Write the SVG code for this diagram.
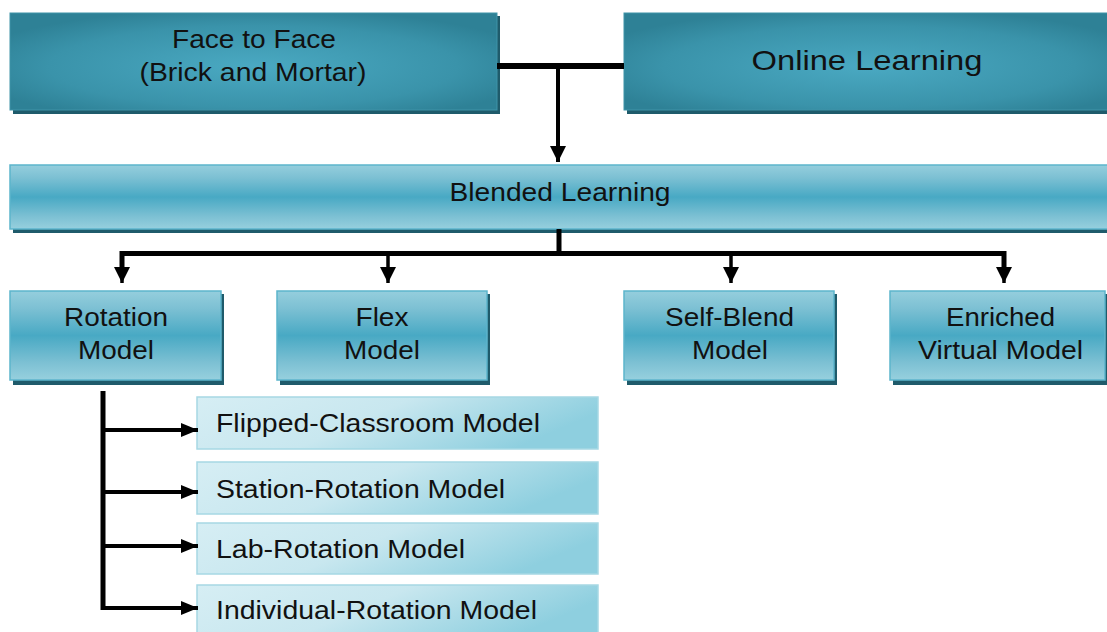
<svg xmlns="http://www.w3.org/2000/svg" width="1107" height="632" viewBox="0 0 1107 632">
<defs>
<radialGradient id="gTop" cx="0.5" cy="0.55" r="0.6">
<stop offset="0" stop-color="#4aa9c2"/>
<stop offset="0.7" stop-color="#3a93aa"/>
<stop offset="1" stop-color="#2e8196"/>
</radialGradient>
<linearGradient id="gMid" x1="0" y1="0" x2="0" y2="1">
<stop offset="0" stop-color="#95cedd"/>
<stop offset="0.2" stop-color="#7cc0d3"/>
<stop offset="0.5" stop-color="#48a9c4"/>
<stop offset="0.8" stop-color="#7cc0d3"/>
<stop offset="1" stop-color="#97d0de"/>
</linearGradient>
<linearGradient id="gSub" x1="0" y1="0" x2="1" y2="0.3">
<stop offset="0" stop-color="#d6eef4"/>
<stop offset="0.5" stop-color="#c8e7ef"/>
<stop offset="1" stop-color="#8ecfdf"/>
</linearGradient>
<marker id="ah" viewBox="0 0 16 16" refX="16" refY="8" markerWidth="16" markerHeight="16" markerUnits="userSpaceOnUse" orient="auto">
<path d="M0,0 L16,8 L0,16 Z" fill="#000"/>
</marker>
<marker id="ah2" viewBox="0 0 17 14" refX="17" refY="7" markerWidth="17" markerHeight="14" markerUnits="userSpaceOnUse" orient="auto">
<path d="M0,0 L17,7 L0,14 Z" fill="#000"/>
</marker>
</defs>
<style>
.sh{fill:#1f5b6b}
.top{fill:url(#gTop);stroke:#3f93a8;stroke-width:1}
.mid{fill:url(#gMid);stroke:#5cb5cc;stroke-width:1.5}
.sub{fill:url(#gSub);stroke:#a6d8e4;stroke-width:1.5}
text{font-family:"Liberation Sans",Arial,sans-serif;fill:#111;text-anchor:middle}
.t24{font-size:26px}
.s{text-anchor:start;font-size:26px}
.ln{stroke:#000;fill:none}
</style>
<rect width="1107" height="632" fill="#fff"/>

<g id="face">
<rect class="sh" x="13" y="16" width="487" height="98"/>
<rect class="top" x="10" y="13" width="487" height="97"/>
<text class="t24" x="254" y="48" textLength="164" lengthAdjust="spacingAndGlyphs">Face to Face</text>
<text class="t24" x="253" y="81" textLength="227" lengthAdjust="spacingAndGlyphs">(Brick and Mortar)</text>
</g>
<g id="online">
<rect class="sh" x="627" y="16" width="490" height="98"/>
<rect class="top" x="624" y="13" width="490" height="97"/>
<text x="867" y="70" style="font-size:28px" textLength="231" lengthAdjust="spacingAndGlyphs">Online Learning</text>
</g>
<g id="blended">
<rect class="sh" x="13" y="168" width="1100" height="65"/>
<rect class="mid" x="10" y="165" width="1100" height="64"/>
<text class="t24" x="560" y="201" textLength="221" lengthAdjust="spacingAndGlyphs">Blended Learning</text>
</g>
<g id="rotation">
<rect class="sh" x="13" y="294" width="211" height="91"/>
<rect class="mid" x="10" y="291" width="211" height="89"/>
<text class="t24" x="116" y="326" textLength="104" lengthAdjust="spacingAndGlyphs">Rotation</text>
<text class="t24" x="116" y="359" textLength="76" lengthAdjust="spacingAndGlyphs">Model</text>
</g>
<g id="flex">
<rect class="sh" x="280" y="294" width="210" height="91"/>
<rect class="mid" x="277" y="291" width="210" height="89"/>
<text class="t24" x="382" y="326" textLength="53" lengthAdjust="spacingAndGlyphs">Flex</text>
<text class="t24" x="382" y="359" textLength="76" lengthAdjust="spacingAndGlyphs">Model</text>
</g>
<g id="selfblend">
<rect class="sh" x="627" y="294" width="210" height="91"/>
<rect class="mid" x="624" y="291" width="210" height="89"/>
<text class="t24" x="729.5" y="326" textLength="129" lengthAdjust="spacingAndGlyphs">Self-Blend</text>
<text class="t24" x="730" y="359" textLength="76" lengthAdjust="spacingAndGlyphs">Model</text>
</g>
<g id="enriched">
<rect class="sh" x="893" y="294" width="215" height="91"/>
<rect class="mid" x="890" y="291" width="215" height="89"/>
<text class="t24" x="1000.5" y="326" textLength="109" lengthAdjust="spacingAndGlyphs">Enriched</text>
<text class="t24" x="1000.5" y="359" textLength="165" lengthAdjust="spacingAndGlyphs">Virtual Model</text>
</g>
<g id="flipped">
<rect class="sub" x="197" y="397" width="401" height="52"/>
<text class="s" x="216" y="432" textLength="324" lengthAdjust="spacingAndGlyphs">Flipped-Classroom Model</text>
</g>
<g id="station">
<rect class="sub" x="197" y="462" width="401" height="52"/>
<text class="s" x="216" y="498" textLength="289" lengthAdjust="spacingAndGlyphs">Station-Rotation Model</text>
</g>
<g id="lab">
<rect class="sub" x="197" y="523" width="401" height="51"/>
<text class="s" x="216" y="558" textLength="249" lengthAdjust="spacingAndGlyphs">Lab-Rotation Model</text>
</g>
<g id="individual">
<rect class="sub" x="197" y="585" width="401" height="52"/>
<text class="s" x="216" y="619" textLength="321" lengthAdjust="spacingAndGlyphs">Individual-Rotation Model</text>
</g>

<g id="connectors">
<line class="ln" x1="497" y1="66" x2="624" y2="66" stroke-width="6"/>
<line class="ln" x1="558" y1="66" x2="558" y2="162" stroke-width="4" marker-end="url(#ah)"/>
<line class="ln" x1="559" y1="229" x2="559" y2="255" stroke-width="5"/>
<path class="ln" d="M122,268 V253.5 H1004 V268" stroke-width="5" stroke-linejoin="miter"/>
<line class="ln" x1="122" y1="262" x2="122" y2="283" stroke-width="3.5" marker-end="url(#ah)"/>
<line class="ln" x1="388" y1="253" x2="388" y2="283" stroke-width="3.5" marker-end="url(#ah)"/>
<line class="ln" x1="731" y1="253" x2="731" y2="283" stroke-width="3.5" marker-end="url(#ah)"/>
<line class="ln" x1="1004" y1="262" x2="1004" y2="283" stroke-width="3.5" marker-end="url(#ah)"/>
<line class="ln" x1="103" y1="391" x2="103" y2="610" stroke-width="5"/>
<line class="ln" x1="103" y1="430" x2="198" y2="430" stroke-width="4" marker-end="url(#ah2)"/>
<line class="ln" x1="103" y1="492" x2="198" y2="492" stroke-width="4" marker-end="url(#ah2)"/>
<line class="ln" x1="103" y1="546" x2="198" y2="546" stroke-width="4" marker-end="url(#ah2)"/>
<line class="ln" x1="101" y1="608" x2="198" y2="608" stroke-width="4" marker-end="url(#ah2)"/>
</g>
</svg>
